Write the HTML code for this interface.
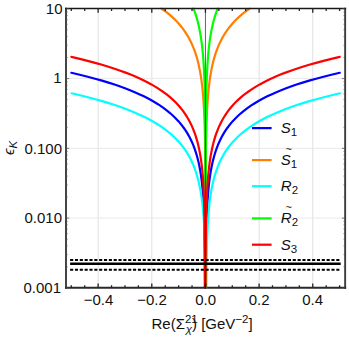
<!DOCTYPE html>
<html><head><meta charset="utf-8"><title>Chart</title><style>html,body{margin:0;padding:0;background:#fff}body{width:349px;height:337px;overflow:hidden;position:relative}</style></head><body><svg width="349" height="337" viewBox="0 0 349 337" style="position:absolute;left:0;top:0">
<rect width="349" height="337" fill="#fff"/>
<line x1="98.13" x2="98.13" y1="8.55" y2="287.65" stroke="#e0e0e0" stroke-width="1"/>
<line x1="151.79" x2="151.79" y1="8.55" y2="287.65" stroke="#e0e0e0" stroke-width="1"/>
<line x1="259.11" x2="259.11" y1="8.55" y2="287.65" stroke="#e0e0e0" stroke-width="1"/>
<line x1="312.77" x2="312.77" y1="8.55" y2="287.65" stroke="#e0e0e0" stroke-width="1"/>
<line x1="66.0" x2="345.15" y1="78.4" y2="78.4" stroke="#e9e9e9" stroke-width="1"/>
<line x1="66.0" x2="345.15" y1="148.3" y2="148.3" stroke="#e9e9e9" stroke-width="1"/>
<line x1="66.0" x2="345.15" y1="218.05" y2="218.05" stroke="#e9e9e9" stroke-width="1"/>
<clipPath id="c"><rect x="66.0" y="6.550000000000001" width="279.15" height="281.09999999999997"/></clipPath>
<path id="k0" d="M205.12,386.79L205.12,384.83L205.12,382.86L205.12,380.9L205.12,378.94L205.12,376.98L205.12,375.01L205.12,373.05L205.12,371.09L205.12,369.13L205.12,367.16L205.12,365.2L205.12,363.24L205.12,361.28L205.11,359.31L205.11,357.35L205.11,355.39L205.11,353.43L205.11,351.46L205.11,349.5L205.11,347.54L205.11,345.58L205.11,343.61L205.11,341.65L205.1,339.69L205.1,337.73L205.1,335.76L205.1,333.8L205.1,331.84L205.1,329.88L205.1,327.91L205.09,325.95L205.09,323.99L205.09,322.03L205.09,320.07L205.08,318.1L205.08,316.14L205.08,314.18L205.08,312.22L205.07,310.25L205.07,308.29L205.07,306.33L205.06,304.37L205.06,302.4L205.05,300.44L205.05,298.48L205.04,296.52L205.04,294.55L205.03,292.59L205.03,290.63L205.02,288.67L205.01,286.7L205,284.74L205,282.78L204.99,280.82L204.98,278.85L204.97,276.89L204.96,274.93L204.95,272.97L204.94,271L204.93,269.04L204.91,267.08L204.9,265.12L204.88,263.16L204.87,261.19L204.85,259.23L204.84,257.27L204.82,255.31L204.8,253.34L204.78,251.38L204.76,249.42L204.73,247.46L204.71,245.49L204.68,243.53L204.65,241.57L204.63,239.61L204.59,237.64L204.56,235.68L204.53,233.72L204.49,231.76L204.45,229.79L204.41,227.83L204.37,225.87L204.32,223.91L204.27,221.94L204.21,219.98L204.16,218.02L204.1,216.06L204.03,214.09L203.96,212.13L203.88,210.17L203.8,208.21L203.71,206.24L203.62,204.28L203.51,202.32L203.4,200.36L203.28,198.4L203.15,196.43L203.02,194.47L202.87,192.51L202.7,190.55L202.53,188.58L202.34,186.62L202.14,184.66L201.93,182.7L201.7,180.73L201.45,178.77L201.18,176.81L200.9,174.85L200.6,172.88L200.27,170.92L199.92,168.96L199.55,167L199.15,165.03L198.73,163.07L198.27,161.11L197.79,159.15L197.27,157.18L196.72,155.22L196.13,153.26L195.5,151.3L194.83,149.33L194.11,147.37L193.35,145.41L192.53,143.45L191.66,141.48L190.73,139.52L189.73,137.56L188.68,135.6L187.55,133.64L186.34,131.67L185.05,129.71L183.68,127.75L182.22,125.79L180.65,123.82L178.99,121.86L177.21,119.9L175.31,117.94L173.29,115.97L171.13,114.01L168.82,112.05L166.36,110.09L163.74,108.12L160.94,106.16L157.96,104.2L154.77,102.24L151.37,100.27L147.75,98.31L143.88,96.35L139.75,94.39L135.34,92.42L130.65,90.46L125.63,88.5L120.28,86.54L114.58,84.57L108.49,82.61L102,80.65L95.07,78.69L87.67,76.72L79.78,74.76L71.37,72.8" fill="none" stroke="#0000ff" stroke-width="2.2" stroke-linecap="round" stroke-linejoin="round" clip-path="url(#c)"/>
<path id="k1" d="M205.58,386.79L205.58,384.83L205.58,382.86L205.58,380.9L205.58,378.94L205.58,376.98L205.58,375.01L205.58,373.05L205.58,371.09L205.58,369.13L205.58,367.16L205.58,365.2L205.58,363.24L205.58,361.28L205.59,359.31L205.59,357.35L205.59,355.39L205.59,353.43L205.59,351.46L205.59,349.5L205.59,347.54L205.59,345.58L205.59,343.61L205.59,341.65L205.6,339.69L205.6,337.73L205.6,335.76L205.6,333.8L205.6,331.84L205.6,329.88L205.6,327.91L205.61,325.95L205.61,323.99L205.61,322.03L205.61,320.07L205.62,318.1L205.62,316.14L205.62,314.18L205.62,312.22L205.63,310.25L205.63,308.29L205.64,306.33L205.64,304.37L205.64,302.4L205.65,300.44L205.65,298.48L205.66,296.52L205.66,294.55L205.67,292.59L205.68,290.63L205.68,288.67L205.69,286.7L205.7,284.74L205.71,282.78L205.72,280.82L205.72,278.85L205.73,276.89L205.75,274.93L205.76,272.97L205.77,271L205.78,269.04L205.8,267.08L205.81,265.12L205.83,263.16L205.84,261.19L205.86,259.23L205.88,257.27L205.9,255.31L205.92,253.34L205.95,251.38L205.97,249.42L206,247.46L206.02,245.49L206.05,243.53L206.09,241.57L206.12,239.61L206.16,237.64L206.2,235.68L206.24,233.72L206.28,231.76L206.33,229.79L206.38,227.83L206.43,225.87L206.49,223.91L206.55,221.94L206.62,219.98L206.69,218.02L206.76,216.06L206.84,214.09L206.93,212.13L207.02,210.17L207.11,208.21L207.22,206.24L207.33,204.28L207.44,202.32L207.57,200.36L207.7,198.4L207.84,196.43L208,194.47L208.16,192.51L208.33,190.55L208.52,188.58L208.71,186.62L208.92,184.66L209.15,182.7L209.38,180.73L209.64,178.77L209.91,176.81L210.2,174.85L210.51,172.88L210.84,170.92L211.19,168.96L211.57,167L211.97,165.03L212.4,163.07L212.86,161.11L213.34,159.15L213.86,157.18L214.42,155.22L215.01,153.26L215.64,151.3L216.31,149.33L217.03,147.37L217.8,145.41L218.61,143.45L219.49,141.48L220.42,139.52L221.41,137.56L222.47,135.6L223.6,133.64L224.81,131.67L226.09,129.71L227.47,127.75L228.93,125.79L230.49,123.82L232.16,121.86L233.94,119.9L235.84,117.94L237.86,115.97L240.02,114.01L242.33,112.05L244.79,110.09L247.41,108.12L250.21,106.16L253.19,104.2L256.38,102.24L259.78,100.27L263.4,98.31L267.27,96.35L271.4,94.39L275.81,92.42L280.5,90.46L285.52,88.5L290.87,86.54L296.57,84.57L302.66,82.61L309.15,80.65L316.08,78.69L323.48,76.72L331.37,74.76L339.78,72.8" fill="none" stroke="#0000ff" stroke-width="2.2" stroke-linecap="round" stroke-linejoin="round" clip-path="url(#c)"/>
<path id="k2" d="M205.57,322.54L205.57,320.58L205.57,318.61L205.57,316.65L205.57,314.69L205.57,312.73L205.57,310.76L205.57,308.8L205.57,306.84L205.57,304.88L205.57,302.91L205.57,300.95L205.57,298.99L205.57,297.03L205.57,295.06L205.57,293.1L205.57,291.14L205.57,289.18L205.57,287.21L205.57,285.25L205.57,283.29L205.57,281.33L205.57,279.36L205.57,277.4L205.57,275.44L205.57,273.48L205.57,271.51L205.57,269.55L205.57,267.59L205.57,265.63L205.57,263.66L205.56,261.7L205.56,259.74L205.56,257.78L205.56,255.82L205.56,253.85L205.56,251.89L205.56,249.93L205.56,247.97L205.56,246L205.56,244.04L205.56,242.08L205.55,240.12L205.55,238.15L205.55,236.19L205.55,234.23L205.55,232.27L205.55,230.3L205.54,228.34L205.54,226.38L205.54,224.42L205.54,222.45L205.53,220.49L205.53,218.53L205.53,216.57L205.53,214.6L205.52,212.64L205.52,210.68L205.52,208.72L205.51,206.75L205.51,204.79L205.5,202.83L205.5,200.87L205.49,198.9L205.49,196.94L205.48,194.98L205.47,193.02L205.47,191.06L205.46,189.09L205.45,187.13L205.45,185.17L205.44,183.21L205.43,181.24L205.42,179.28L205.41,177.32L205.4,175.36L205.38,173.39L205.37,171.43L205.36,169.47L205.34,167.51L205.33,165.54L205.31,163.58L205.29,161.62L205.27,159.66L205.25,157.69L205.23,155.73L205.21,153.77L205.18,151.81L205.16,149.84L205.13,147.88L205.1,145.92L205.07,143.96L205.03,141.99L205,140.03L204.96,138.07L204.92,136.11L204.88,134.14L204.83,132.18L204.78,130.22L204.73,128.26L204.67,126.3L204.61,124.33L204.54,122.37L204.47,120.41L204.4,118.45L204.32,116.48L204.24,114.52L204.15,112.56L204.05,110.6L203.95,108.63L203.84,106.67L203.73,104.71L203.6,102.75L203.47,100.78L203.33,98.82L203.18,96.86L203.02,94.9L202.85,92.93L202.67,90.97L202.47,89.01L202.26,87.05L202.04,85.08L201.81,83.12L201.55,81.16L201.29,79.2L201,77.23L200.69,75.27L200.37,73.31L200.02,71.35L199.65,69.39L199.25,67.42L198.83,65.46L198.37,63.5L197.89,61.54L197.38,59.57L196.83,57.61L196.24,55.65L195.62,53.69L194.95,51.72L194.24,49.76L193.49,47.8L192.68,45.84L191.81,43.87L190.89,41.91L189.91,39.95L188.86,37.99L187.75,36.02L186.55,34.06L185.28,32.1L183.92,30.14L182.47,28.17L180.93,26.21L179.28,24.25L177.52,22.29L175.64,20.32L173.64,18.36L171.5,16.4L169.22,14.44L166.79,12.47L164.2,10.51L161.43,8.55" fill="none" stroke="#ff8000" stroke-width="2.2" stroke-linecap="round" stroke-linejoin="round" clip-path="url(#c)"/>
<path id="k3" d="M205.58,322.54L205.58,320.58L205.58,318.61L205.58,316.65L205.58,314.69L205.58,312.73L205.58,310.76L205.58,308.8L205.58,306.84L205.58,304.88L205.58,302.91L205.58,300.95L205.58,298.99L205.58,297.03L205.58,295.06L205.58,293.1L205.58,291.14L205.58,289.18L205.58,287.21L205.58,285.25L205.58,283.29L205.58,281.33L205.58,279.36L205.58,277.4L205.58,275.44L205.58,273.48L205.58,271.51L205.58,269.55L205.58,267.59L205.58,265.63L205.58,263.66L205.59,261.7L205.59,259.74L205.59,257.78L205.59,255.82L205.59,253.85L205.59,251.89L205.59,249.93L205.59,247.97L205.59,246L205.59,244.04L205.59,242.08L205.6,240.12L205.6,238.15L205.6,236.19L205.6,234.23L205.6,232.27L205.6,230.3L205.61,228.34L205.61,226.38L205.61,224.42L205.61,222.45L205.62,220.49L205.62,218.53L205.62,216.57L205.62,214.6L205.63,212.64L205.63,210.68L205.63,208.72L205.64,206.75L205.64,204.79L205.65,202.83L205.65,200.87L205.66,198.9L205.66,196.94L205.67,194.98L205.68,193.02L205.68,191.06L205.69,189.09L205.7,187.13L205.7,185.17L205.71,183.21L205.72,181.24L205.73,179.28L205.74,177.32L205.75,175.36L205.77,173.39L205.78,171.43L205.79,169.47L205.81,167.51L205.82,165.54L205.84,163.58L205.86,161.62L205.88,159.66L205.9,157.69L205.92,155.73L205.94,153.77L205.97,151.81L205.99,149.84L206.02,147.88L206.05,145.92L206.08,143.96L206.12,141.99L206.15,140.03L206.19,138.07L206.23,136.11L206.27,134.14L206.32,132.18L206.37,130.22L206.42,128.26L206.48,126.3L206.54,124.33L206.61,122.37L206.68,120.41L206.75,118.45L206.83,116.48L206.91,114.52L207,112.56L207.1,110.6L207.2,108.63L207.31,106.67L207.42,104.71L207.55,102.75L207.68,100.78L207.82,98.82L207.97,96.86L208.13,94.9L208.3,92.93L208.48,90.97L208.68,89.01L208.89,87.05L209.11,85.08L209.34,83.12L209.6,81.16L209.86,79.2L210.15,77.23L210.46,75.27L210.78,73.31L211.13,71.35L211.5,69.39L211.9,67.42L212.32,65.46L212.78,63.5L213.26,61.54L213.77,59.57L214.32,57.61L214.91,55.65L215.53,53.69L216.2,51.72L216.91,49.76L217.66,47.8L218.47,45.84L219.34,43.87L220.26,41.91L221.24,39.95L222.29,37.99L223.4,36.02L224.6,34.06L225.87,32.1L227.23,30.14L228.68,28.17L230.22,26.21L231.87,24.25L233.63,22.29L235.51,20.32L237.51,18.36L239.65,16.4L241.93,14.44L244.36,12.47L246.95,10.51L249.72,8.55" fill="none" stroke="#ff8000" stroke-width="2.2" stroke-linecap="round" stroke-linejoin="round" clip-path="url(#c)"/>
<path id="k4" d="M205.87,407.29L205.87,405.33L205.87,403.37L205.87,401.4L205.87,399.44L205.87,397.48L205.87,395.52L205.87,393.55L205.87,391.59L205.87,389.63L205.87,387.67L205.87,385.7L205.87,383.74L205.87,381.78L205.86,379.82L205.86,377.85L205.86,375.89L205.86,373.93L205.86,371.97L205.86,370.01L205.86,368.04L205.86,366.08L205.86,364.12L205.86,362.16L205.85,360.19L205.85,358.23L205.85,356.27L205.85,354.31L205.85,352.34L205.85,350.38L205.85,348.42L205.84,346.46L205.84,344.49L205.84,342.53L205.84,340.57L205.83,338.61L205.83,336.64L205.83,334.68L205.83,332.72L205.82,330.76L205.82,328.79L205.81,326.83L205.81,324.87L205.81,322.91L205.8,320.94L205.8,318.98L205.79,317.02L205.79,315.06L205.78,313.09L205.77,311.13L205.77,309.17L205.76,307.21L205.75,305.25L205.74,303.28L205.73,301.32L205.73,299.36L205.72,297.4L205.7,295.43L205.69,293.47L205.68,291.51L205.67,289.55L205.65,287.58L205.64,285.62L205.62,283.66L205.61,281.7L205.59,279.73L205.57,277.77L205.55,275.81L205.53,273.85L205.5,271.88L205.48,269.92L205.45,267.96L205.43,266L205.4,264.03L205.36,262.07L205.33,260.11L205.29,258.15L205.25,256.18L205.21,254.22L205.17,252.26L205.12,250.3L205.07,248.33L205.02,246.37L204.96,244.41L204.9,242.45L204.83,240.49L204.76,238.52L204.69,236.56L204.61,234.6L204.52,232.64L204.43,230.67L204.34,228.71L204.23,226.75L204.12,224.79L204.01,222.82L203.88,220.86L203.75,218.9L203.61,216.94L203.45,214.97L203.29,213.01L203.12,211.05L202.93,209.09L202.74,207.12L202.53,205.16L202.3,203.2L202.07,201.24L201.81,199.27L201.54,197.31L201.25,195.35L200.94,193.39L200.61,191.42L200.26,189.46L199.88,187.5L199.48,185.54L199.05,183.58L198.59,181.61L198.11,179.65L197.59,177.69L197.03,175.73L196.44,173.76L195.81,171.8L195.14,169.84L194.42,167.88L193.65,165.91L192.84,163.95L191.96,161.99L191.03,160.03L190.04,158.06L188.98,156.1L187.85,154.14L186.64,152.18L185.36,150.21L183.98,148.25L182.52,146.29L180.96,144.33L179.29,142.36L177.51,140.4L175.61,138.44L173.59,136.48L171.43,134.51L169.12,132.55L166.66,130.59L164.04,128.63L161.24,126.66L158.26,124.7L155.07,122.74L151.67,120.78L148.05,118.82L144.18,116.85L140.05,114.89L135.64,112.93L130.95,110.97L125.93,109L120.58,107.04L114.88,105.08L108.79,103.12L102.3,101.15L95.37,99.19L87.97,97.23L80.08,95.27L71.67,93.3" fill="none" stroke="#00ffff" stroke-width="2.2" stroke-linecap="round" stroke-linejoin="round" clip-path="url(#c)"/>
<path id="k5" d="M206.18,407.29L206.18,405.33L206.18,403.37L206.18,401.4L206.18,399.44L206.18,397.48L206.18,395.52L206.18,393.55L206.18,391.59L206.18,389.63L206.18,387.67L206.18,385.7L206.18,383.74L206.18,381.78L206.19,379.82L206.19,377.85L206.19,375.89L206.19,373.93L206.19,371.97L206.19,370.01L206.19,368.04L206.19,366.08L206.19,364.12L206.19,362.16L206.2,360.19L206.2,358.23L206.2,356.27L206.2,354.31L206.2,352.34L206.2,350.38L206.2,348.42L206.21,346.46L206.21,344.49L206.21,342.53L206.21,340.57L206.22,338.61L206.22,336.64L206.22,334.68L206.22,332.72L206.23,330.76L206.23,328.79L206.23,326.83L206.24,324.87L206.24,322.91L206.25,320.94L206.25,318.98L206.26,317.02L206.26,315.06L206.27,313.09L206.28,311.13L206.28,309.17L206.29,307.21L206.3,305.25L206.3,303.28L206.31,301.32L206.32,299.36L206.33,297.4L206.34,295.43L206.35,293.47L206.36,291.51L206.38,289.55L206.39,287.58L206.4,285.62L206.42,283.66L206.43,281.7L206.45,279.73L206.47,277.77L206.49,275.81L206.51,273.85L206.53,271.88L206.55,269.92L206.58,267.96L206.6,266L206.63,264.03L206.66,262.07L206.69,260.11L206.72,258.15L206.76,256.18L206.79,254.22L206.83,252.26L206.88,250.3L206.92,248.33L206.97,246.37L207.02,244.41L207.07,242.45L207.13,240.49L207.19,238.52L207.26,236.56L207.33,234.6L207.4,232.64L207.48,230.67L207.57,228.71L207.66,226.75L207.76,224.79L207.87,222.82L207.99,220.86L208.11,218.9L208.24,216.94L208.39,214.97L208.54,213.01L208.71,211.05L208.88,209.09L209.07,207.12L209.28,205.16L209.5,203.2L209.73,201.24L209.98,199.27L210.25,197.31L210.53,195.35L210.84,193.39L211.17,191.42L211.52,189.46L211.89,187.5L212.29,185.54L212.71,183.58L213.17,181.61L213.65,179.65L214.17,177.69L214.73,175.73L215.32,173.76L215.95,171.8L216.62,169.84L217.34,167.88L218.1,165.91L218.92,163.95L219.79,161.99L220.72,160.03L221.71,158.06L222.77,156.1L223.9,154.14L225.11,152.18L226.4,150.21L227.77,148.25L229.23,146.29L230.79,144.33L232.46,142.36L234.24,140.4L236.14,138.44L238.16,136.48L240.32,134.51L242.63,132.55L245.09,130.59L247.71,128.63L250.51,126.66L253.49,124.7L256.68,122.74L260.08,120.78L263.7,118.82L267.57,116.85L271.7,114.89L276.11,112.93L280.8,110.97L285.82,109L291.17,107.04L296.87,105.08L302.96,103.12L309.45,101.15L316.38,99.19L323.78,97.23L331.67,95.27L340.08,93.3" fill="none" stroke="#00ffff" stroke-width="2.2" stroke-linecap="round" stroke-linejoin="round" clip-path="url(#c)"/>
<path id="k6" d="M205.57,322.54L205.57,320.58L205.57,318.61L205.57,316.65L205.57,314.69L205.57,312.73L205.57,310.76L205.57,308.8L205.57,306.84L205.57,304.88L205.57,302.91L205.57,300.95L205.57,298.99L205.57,297.03L205.57,295.06L205.57,293.1L205.57,291.14L205.57,289.18L205.57,287.21L205.57,285.25L205.57,283.29L205.57,281.33L205.57,279.36L205.57,277.4L205.57,275.44L205.57,273.48L205.57,271.51L205.57,269.55L205.57,267.59L205.57,265.63L205.57,263.66L205.57,261.7L205.57,259.74L205.57,257.78L205.57,255.82L205.57,253.85L205.57,251.89L205.57,249.93L205.57,247.97L205.57,246L205.57,244.04L205.57,242.08L205.57,240.12L205.57,238.15L205.57,236.19L205.57,234.23L205.57,232.27L205.57,230.3L205.57,228.34L205.57,226.38L205.57,224.42L205.56,222.45L205.56,220.49L205.56,218.53L205.56,216.57L205.56,214.6L205.56,212.64L205.56,210.68L205.56,208.72L205.56,206.75L205.56,204.79L205.56,202.83L205.55,200.87L205.55,198.9L205.55,196.94L205.55,194.98L205.55,193.02L205.55,191.06L205.54,189.09L205.54,187.13L205.54,185.17L205.54,183.21L205.53,181.24L205.53,179.28L205.53,177.32L205.53,175.36L205.52,173.39L205.52,171.43L205.52,169.47L205.51,167.51L205.51,165.54L205.5,163.58L205.5,161.62L205.49,159.66L205.49,157.69L205.48,155.73L205.47,153.77L205.47,151.81L205.46,149.84L205.45,147.88L205.45,145.92L205.44,143.96L205.43,141.99L205.42,140.03L205.41,138.07L205.4,136.11L205.38,134.14L205.37,132.18L205.36,130.22L205.34,128.26L205.33,126.3L205.31,124.33L205.29,122.37L205.27,120.41L205.25,118.45L205.23,116.48L205.21,114.52L205.18,112.56L205.16,110.6L205.13,108.63L205.1,106.67L205.07,104.71L205.03,102.75L205,100.78L204.96,98.82L204.92,96.86L204.88,94.9L204.83,92.93L204.78,90.97L204.73,89.01L204.67,87.05L204.61,85.08L204.54,83.12L204.47,81.16L204.4,79.2L204.32,77.23L204.24,75.27L204.15,73.31L204.05,71.35L203.95,69.39L203.84,67.42L203.73,65.46L203.6,63.5L203.47,61.54L203.33,59.57L203.18,57.61L203.02,55.65L202.85,53.69L202.67,51.72L202.47,49.76L202.26,47.8L202.04,45.84L201.81,43.87L201.55,41.91L201.29,39.95L201,37.99L200.69,36.02L200.37,34.06L200.02,32.1L199.64,30.14L199.25,28.17L198.82,26.21L198.37,24.25L197.89,22.29L197.38,20.32L196.83,18.36L196.24,16.4L195.62,14.44L194.95,12.47L194.24,10.51L193.48,8.55" fill="none" stroke="#00ff00" stroke-width="2.2" stroke-linecap="round" stroke-linejoin="round" clip-path="url(#c)"/>
<path id="k7" d="M205.58,322.54L205.58,320.58L205.58,318.61L205.58,316.65L205.58,314.69L205.58,312.73L205.58,310.76L205.58,308.8L205.58,306.84L205.58,304.88L205.58,302.91L205.58,300.95L205.58,298.99L205.58,297.03L205.58,295.06L205.58,293.1L205.58,291.14L205.58,289.18L205.58,287.21L205.58,285.25L205.58,283.29L205.58,281.33L205.58,279.36L205.58,277.4L205.58,275.44L205.58,273.48L205.58,271.51L205.58,269.55L205.58,267.59L205.58,265.63L205.58,263.66L205.58,261.7L205.58,259.74L205.58,257.78L205.58,255.82L205.58,253.85L205.58,251.89L205.58,249.93L205.58,247.97L205.58,246L205.58,244.04L205.58,242.08L205.58,240.12L205.58,238.15L205.58,236.19L205.58,234.23L205.58,232.27L205.58,230.3L205.58,228.34L205.58,226.38L205.58,224.42L205.59,222.45L205.59,220.49L205.59,218.53L205.59,216.57L205.59,214.6L205.59,212.64L205.59,210.68L205.59,208.72L205.59,206.75L205.59,204.79L205.59,202.83L205.6,200.87L205.6,198.9L205.6,196.94L205.6,194.98L205.6,193.02L205.6,191.06L205.61,189.09L205.61,187.13L205.61,185.17L205.61,183.21L205.62,181.24L205.62,179.28L205.62,177.32L205.62,175.36L205.63,173.39L205.63,171.43L205.63,169.47L205.64,167.51L205.64,165.54L205.65,163.58L205.65,161.62L205.66,159.66L205.66,157.69L205.67,155.73L205.68,153.77L205.68,151.81L205.69,149.84L205.7,147.88L205.7,145.92L205.71,143.96L205.72,141.99L205.73,140.03L205.74,138.07L205.75,136.11L205.77,134.14L205.78,132.18L205.79,130.22L205.81,128.26L205.82,126.3L205.84,124.33L205.86,122.37L205.88,120.41L205.9,118.45L205.92,116.48L205.94,114.52L205.97,112.56L205.99,110.6L206.02,108.63L206.05,106.67L206.08,104.71L206.12,102.75L206.15,100.78L206.19,98.82L206.23,96.86L206.27,94.9L206.32,92.93L206.37,90.97L206.42,89.01L206.48,87.05L206.54,85.08L206.61,83.12L206.68,81.16L206.75,79.2L206.83,77.23L206.91,75.27L207,73.31L207.1,71.35L207.2,69.39L207.31,67.42L207.42,65.46L207.55,63.5L207.68,61.54L207.82,59.57L207.97,57.61L208.13,55.65L208.3,53.69L208.48,51.72L208.68,49.76L208.89,47.8L209.11,45.84L209.34,43.87L209.6,41.91L209.86,39.95L210.15,37.99L210.46,36.02L210.78,34.06L211.13,32.1L211.51,30.14L211.9,28.17L212.33,26.21L212.78,24.25L213.26,22.29L213.77,20.32L214.32,18.36L214.91,16.4L215.53,14.44L216.2,12.47L216.91,10.51L217.67,8.55" fill="none" stroke="#00ff00" stroke-width="2.2" stroke-linecap="round" stroke-linejoin="round" clip-path="url(#c)"/>
<path id="k8" d="M204.97,370.93L204.97,368.97L204.97,367.01L204.97,365.04L204.97,363.08L204.97,361.12L204.97,359.16L204.97,357.19L204.97,355.23L204.97,353.27L204.97,351.31L204.97,349.35L204.97,347.38L204.97,345.42L204.96,343.46L204.96,341.5L204.96,339.53L204.96,337.57L204.96,335.61L204.96,333.65L204.96,331.68L204.96,329.72L204.96,327.76L204.96,325.8L204.96,323.83L204.95,321.87L204.95,319.91L204.95,317.95L204.95,315.98L204.95,314.02L204.95,312.06L204.94,310.1L204.94,308.13L204.94,306.17L204.94,304.21L204.93,302.25L204.93,300.28L204.93,298.32L204.93,296.36L204.92,294.4L204.92,292.43L204.92,290.47L204.91,288.51L204.91,286.55L204.9,284.59L204.9,282.62L204.89,280.66L204.89,278.7L204.88,276.74L204.88,274.77L204.87,272.81L204.86,270.85L204.86,268.89L204.85,266.92L204.84,264.96L204.83,263L204.82,261.04L204.81,259.07L204.8,257.11L204.79,255.15L204.78,253.19L204.77,251.22L204.75,249.26L204.74,247.3L204.72,245.34L204.71,243.37L204.69,241.41L204.67,239.45L204.65,237.49L204.63,235.52L204.61,233.56L204.59,231.6L204.57,229.64L204.54,227.67L204.52,225.71L204.49,223.75L204.46,221.79L204.43,219.83L204.4,217.86L204.36,215.9L204.33,213.94L204.29,211.98L204.25,210.01L204.21,208.05L204.16,206.09L204.11,204.13L204.06,202.16L204,200.2L203.94,198.24L203.87,196.28L203.8,194.31L203.72,192.35L203.64,190.39L203.55,188.43L203.45,186.46L203.34,184.5L203.23,182.54L203.1,180.58L202.97,178.61L202.82,176.65L202.67,174.69L202.5,172.73L202.31,170.76L202.12,168.8L201.9,166.84L201.67,164.88L201.43,162.91L201.17,160.95L200.88,158.99L200.58,157.03L200.26,155.07L199.91,153.1L199.54,151.14L199.14,149.18L198.72,147.22L198.27,145.25L197.78,143.29L197.27,141.33L196.71,139.37L196.13,137.4L195.5,135.44L194.82,133.48L194.11,131.52L193.34,129.55L192.53,127.59L191.65,125.63L190.72,123.67L189.73,121.7L188.67,119.74L187.54,117.78L186.34,115.82L185.05,113.85L183.68,111.89L182.22,109.93L180.65,107.97L178.99,106L177.21,104.04L175.31,102.08L173.29,100.12L171.13,98.16L168.82,96.19L166.36,94.23L163.74,92.27L160.94,90.31L157.96,88.34L154.77,86.38L151.37,84.42L147.75,82.46L143.88,80.49L139.75,78.53L135.34,76.57L130.65,74.61L125.63,72.64L120.28,70.68L114.58,68.72L108.49,66.76L102,64.79L95.07,62.83L87.67,60.87L79.78,58.91L71.37,56.94" fill="none" stroke="#ff0000" stroke-width="2.2" stroke-linecap="round" stroke-linejoin="round" clip-path="url(#c)"/>
<path id="k9" d="M205.48,370.93L205.48,368.97L205.48,367.01L205.48,365.04L205.48,363.08L205.48,361.12L205.48,359.16L205.48,357.19L205.48,355.23L205.48,353.27L205.48,351.31L205.48,349.35L205.48,347.38L205.48,345.42L205.49,343.46L205.49,341.5L205.49,339.53L205.49,337.57L205.49,335.61L205.49,333.65L205.49,331.68L205.49,329.72L205.49,327.76L205.49,325.8L205.5,323.83L205.5,321.87L205.5,319.91L205.5,317.95L205.5,315.98L205.5,314.02L205.5,312.06L205.51,310.1L205.51,308.13L205.51,306.17L205.51,304.21L205.52,302.25L205.52,300.28L205.52,298.32L205.52,296.36L205.53,294.4L205.53,292.43L205.54,290.47L205.54,288.51L205.54,286.55L205.55,284.59L205.55,282.62L205.56,280.66L205.56,278.7L205.57,276.74L205.58,274.77L205.58,272.81L205.59,270.85L205.6,268.89L205.61,266.92L205.62,264.96L205.63,263L205.64,261.04L205.65,259.07L205.66,257.11L205.67,255.15L205.68,253.19L205.7,251.22L205.71,249.26L205.73,247.3L205.75,245.34L205.76,243.37L205.78,241.41L205.8,239.45L205.83,237.49L205.85,235.52L205.88,233.56L205.9,231.6L205.93,229.64L205.96,227.67L206,225.71L206.03,223.75L206.07,221.79L206.11,219.83L206.15,217.86L206.2,215.9L206.25,213.94L206.3,211.98L206.36,210.01L206.42,208.05L206.48,206.09L206.55,204.13L206.62,202.16L206.7,200.2L206.78,198.24L206.87,196.28L206.96,194.31L207.06,192.35L207.17,190.39L207.28,188.43L207.4,186.46L207.53,184.5L207.67,182.54L207.81,180.58L207.97,178.61L208.13,176.65L208.31,174.69L208.49,172.73L208.69,170.76L208.9,168.8L209.13,166.84L209.37,164.88L209.63,162.91L209.9,160.95L210.19,158.99L210.5,157.03L210.83,155.07L211.19,153.1L211.56,151.14L211.96,149.18L212.39,147.22L212.85,145.25L213.34,143.29L213.86,141.33L214.41,139.37L215.01,137.4L215.64,135.44L216.31,133.48L217.03,131.52L217.8,129.55L218.61,127.59L219.49,125.63L220.42,123.67L221.41,121.7L222.47,119.74L223.6,117.78L224.81,115.82L226.09,113.85L227.47,111.89L228.93,109.93L230.49,107.97L232.16,106L233.94,104.04L235.84,102.08L237.86,100.12L240.02,98.16L242.33,96.19L244.79,94.23L247.41,92.27L250.21,90.31L253.19,88.34L256.38,86.38L259.78,84.42L263.4,82.46L267.27,80.49L271.4,78.53L275.81,76.57L280.5,74.61L285.52,72.64L290.87,70.68L296.57,68.72L302.66,66.76L309.15,64.79L316.08,62.83L323.48,60.87L331.37,58.91L339.78,56.94" fill="none" stroke="#ff0000" stroke-width="2.2" stroke-linecap="round" stroke-linejoin="round" clip-path="url(#c)"/>
<line x1="205.45" x2="205.45" y1="8.55" y2="287.65" stroke="#000" stroke-width="1" opacity="0.6"/>
<line x1="70.1" x2="340.7" y1="259.95" y2="259.95" stroke="#000" stroke-width="2.15" stroke-dasharray="3.1 1.74"/>
<line x1="70.1" x2="340.7" y1="263.65" y2="263.65" stroke="#000" stroke-width="2.5"/>
<line x1="70.1" x2="340.7" y1="269.75" y2="269.75" stroke="#000" stroke-width="2.15" stroke-dasharray="3.1 1.74"/>
<path d="M66.0,7.65V288.65M345.15,7.65V288.65" stroke="#3c3c3c" stroke-width="1.9" fill="none"/>
<path d="M65.0,8.5H346.15" stroke="#181818" stroke-width="1.65" fill="none"/>
<path d="M65.0,287.75H346.15" stroke="#2a2a2a" stroke-width="1.9" fill="none"/>
<path d="M71.3,287.65v-2.5M71.3,8.55v2.5M84.71,287.65v-2.5M84.71,8.55v2.5M98.13,287.65v-4.2M98.13,8.55v4.2M111.54,287.65v-2.5M111.54,8.55v2.5M124.96,287.65v-2.5M124.96,8.55v2.5M138.38,287.65v-2.5M138.38,8.55v2.5M151.79,287.65v-4.2M151.79,8.55v4.2M165.2,287.65v-2.5M165.2,8.55v2.5M178.62,287.65v-2.5M178.62,8.55v2.5M192.03,287.65v-2.5M192.03,8.55v2.5M205.45,287.65v-4.2M205.45,8.55v4.2M218.86,287.65v-2.5M218.86,8.55v2.5M232.28,287.65v-2.5M232.28,8.55v2.5M245.69,287.65v-2.5M245.69,8.55v2.5M259.11,287.65v-4.2M259.11,8.55v4.2M272.52,287.65v-2.5M272.52,8.55v2.5M285.94,287.65v-2.5M285.94,8.55v2.5M299.36,287.65v-2.5M299.36,8.55v2.5M312.77,287.65v-4.2M312.77,8.55v4.2M326.19,287.65v-2.5M326.19,8.55v2.5M339.6,287.65v-2.5M339.6,8.55v2.5" stroke="#242424" stroke-width="1.3" fill="none"/>
<path d="M66.0,287.9h3.2M345.15,287.9h-3.2M66.0,266.9h1.6M345.15,266.9h-1.6M66.0,254.61h1.6M345.15,254.61h-1.6M66.0,245.89h1.6M345.15,245.89h-1.6M66.0,239.13h1.6M345.15,239.13h-1.6M66.0,233.6h1.6M345.15,233.6h-1.6M66.0,228.93h1.6M345.15,228.93h-1.6M66.0,224.89h1.6M345.15,224.89h-1.6M66.0,221.32h1.6M345.15,221.32h-1.6M66.0,218.12h3.2M345.15,218.12h-3.2M66.0,197.12h1.6M345.15,197.12h-1.6M66.0,184.83h1.6M345.15,184.83h-1.6M66.0,176.12h1.6M345.15,176.12h-1.6M66.0,169.35h1.6M345.15,169.35h-1.6M66.0,163.83h1.6M345.15,163.83h-1.6M66.0,159.16h1.6M345.15,159.16h-1.6M66.0,155.11h1.6M345.15,155.11h-1.6M66.0,151.54h1.6M345.15,151.54h-1.6M66.0,148.35h3.2M345.15,148.35h-3.2M66.0,127.35h1.6M345.15,127.35h-1.6M66.0,115.06h1.6M345.15,115.06h-1.6M66.0,106.34h1.6M345.15,106.34h-1.6M66.0,99.58h1.6M345.15,99.58h-1.6M66.0,94.05h1.6M345.15,94.05h-1.6M66.0,89.38h1.6M345.15,89.38h-1.6M66.0,85.34h1.6M345.15,85.34h-1.6M66.0,81.77h1.6M345.15,81.77h-1.6M66.0,78.57h3.2M345.15,78.57h-3.2M66.0,57.57h1.6M345.15,57.57h-1.6M66.0,45.28h1.6M345.15,45.28h-1.6M66.0,36.57h1.6M345.15,36.57h-1.6M66.0,29.8h1.6M345.15,29.8h-1.6M66.0,24.28h1.6M345.15,24.28h-1.6M66.0,19.61h1.6M345.15,19.61h-1.6M66.0,15.56h1.6M345.15,15.56h-1.6M66.0,11.99h1.6M345.15,11.99h-1.6M66.0,8.8h3.2M345.15,8.8h-3.2" stroke="#505050" stroke-width="0.75" fill="none"/>
<clipPath id="c2"><rect x="200" y="286.6" width="12" height="2.2"/></clipPath>
<g clip-path="url(#c2)" opacity="0.55"><path d="M205.12,285V290" stroke="#0000ff" stroke-width="2.2" fill="none"/><path d="M206.17,285V290" stroke="#00ffff" stroke-width="2.2" fill="none"/><path d="M205.32,285V290" stroke="#ff0000" stroke-width="2.2" fill="none"/></g>
<path d="M205.45,288.54999999999995v-5.1" stroke="#000" stroke-width="1.3" fill="none"/>
<line x1="252" x2="271.6" y1="128.1" y2="128.1" stroke="#0000ff" stroke-width="2.2"/>
<line x1="252" x2="271.6" y1="160.1" y2="160.1" stroke="#ff8000" stroke-width="2.2"/>
<line x1="252" x2="271.6" y1="186.2" y2="186.2" stroke="#00ffff" stroke-width="2.2"/>
<line x1="252" x2="271.6" y1="218.4" y2="218.4" stroke="#00ff00" stroke-width="2.2"/>
<line x1="252" x2="271.6" y1="244.7" y2="244.7" stroke="#ff0000" stroke-width="2.2"/>
<g font-family="'Liberation Sans', sans-serif" font-size="15" fill="#111" stroke="none"><text x="62.5" y="13.6" text-anchor="end">10</text><text x="61.5" y="83.4" text-anchor="end">1</text><text x="62" y="153.55" text-anchor="end">0.100</text><text x="62" y="223.45" text-anchor="end">0.010</text><text x="61" y="293.45" text-anchor="end">0.001</text><text x="98.5" y="305.05" text-anchor="middle">−0.4</text><text x="152" y="305.05" text-anchor="middle">−0.2</text><text x="205.6" y="305.05" text-anchor="middle">0.0</text><text x="259.2" y="305.05" text-anchor="middle">0.2</text><text x="312.7" y="305.05" text-anchor="middle">0.4</text><text x="151.5" y="328.9">Re(Σ<tspan font-size="11.5" dy="-6">21</tspan><tspan font-size="11.5" font-style="italic" dx="-12" dy="10">χ</tspan><tspan dy="-4">) [GeV</tspan><tspan font-size="11.5" dy="-6">−2</tspan><tspan dy="6">]</tspan></text><text transform="translate(14.2,155) rotate(-90)" font-style="italic">ϵ<tspan font-size="11.5" dy="2.5">K</tspan></text><text x="280.8" y="132.9" font-style="italic">S<tspan font-size="11.5" font-style="normal" dy="3">1</tspan></text><text x="280.8" y="165.05" font-style="italic">S<tspan font-size="11.5" font-style="normal" dy="3">1</tspan></text><text x="288.6" y="153" font-size="11" text-anchor="middle">~</text><text x="280.8" y="191.05" font-style="italic">R<tspan font-size="11.5" font-style="normal" dy="3">2</tspan></text><text x="280.8" y="222.9" font-style="italic">R<tspan font-size="11.5" font-style="normal" dy="3">2</tspan></text><text x="288.6" y="210.8" font-size="11" text-anchor="middle">~</text><text x="280.8" y="249.75" font-style="italic">S<tspan font-size="11.5" font-style="normal" dy="3">3</tspan></text></g>
</svg></body></html>
